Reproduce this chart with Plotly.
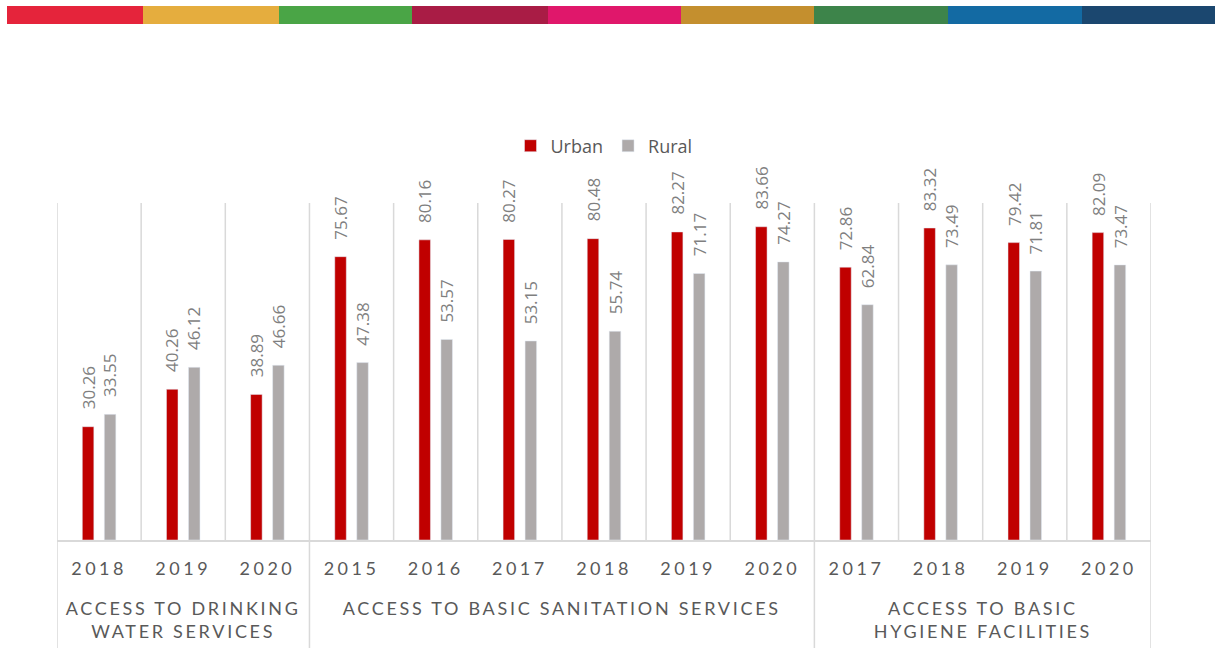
import plotly.graph_objects as go

# ---- data ----
groups = ["ACCESS TO DRINKING<br>WATER SERVICES",
          "ACCESS TO BASIC SANITATION SERVICES",
          "ACCESS TO BASIC<br>HYGIENE FACILITIES"]
group_years = [["2018", "2019", "2020"],
               ["2015", "2016", "2017", "2018", "2019", "2020"],
               ["2017", "2018", "2019", "2020"]]
urban = [30.26, 40.26, 38.89,
         75.67, 80.16, 80.27, 80.48, 82.27, 83.66,
         72.86, 83.32, 79.42, 82.09]
rural = [33.55, 46.12, 46.66,
         47.38, 53.57, 53.15, 55.74, 71.17, 74.27,
         62.84, 73.49, 71.81, 73.47]
stripe_colors = ["#E5243B", "#E5AD3E", "#4AA546", "#A91C45", "#E0176B",
                 "#C48F2E", "#3D844A", "#136AA3", "#1B476F"]

# ---- derived ----
years = [y for g in group_years for y in g]
xs = list(range(len(years)))
n = len(years)

W, H = 1215, 648
L, R, T, B = 57, 64, 203, 108
PW, PH = W - L - R, H - T - B

def px2paper_x(px):
    return (px - L) / PW

def px2paper_y(py):
    return (H - B - py) / PH

RED, GREY = "#C00000", "#AEAAAA"
LINE = "#D9D9D9"
TXT = "#595959"
LBL = "#7F7F7F"

off = 0.1307
bw = 0.137

fig = go.Figure()
fig.add_trace(go.Bar(x=xs, y=urban, name="Urban", marker_color=RED,
                     width=bw, offset=-off - bw / 2, hoverinfo="y"))
fig.add_trace(go.Bar(x=xs, y=rural, name="Rural", marker_color=GREY,
                     width=bw, offset=off - bw / 2, hoverinfo="y"))

annotations = []
for i, (u, r) in enumerate(zip(urban, rural)):
    for xv, v in ((i - off, u), (i + off, r)):
        annotations.append(dict(x=xv, y=v, xref="x", yref="y", text=f"{v:.2f}",
                                textangle=-90, showarrow=False, yanchor="bottom",
                                xanchor="center", yshift=15,
                                font=dict(family="Open Sans", size=17, color=LBL)))

# group labels
bounds = [-0.5]
for g in group_years:
    bounds.append(bounds[-1] + len(g))
for gi, g in enumerate(groups):
    cx = (bounds[gi] + bounds[gi + 1]) / 2
    annotations.append(dict(x=cx, y=px2paper_y(595), xref="x", yref="paper",
                            text=g, showarrow=False, yanchor="top", xanchor="center",
                            align="center",
                            font=dict(family="Lato", size=18, color=TXT)))

shapes = []
# category separators (vertical gridlines)
for k in range(n + 1):
    shapes.append(dict(type="line", xref="x", yref="y", x0=k - 0.5, x1=k - 0.5,
                       y0=0, y1=90, line=dict(color=LINE, width=1.5), layer="below"))
# group dividers below axis
for b in bounds:
    shapes.append(dict(type="line", xref="x", yref="paper", x0=b, x1=b,
                       y0=0, y1=px2paper_y(H + 2), line=dict(color=LINE, width=1.5)))
# top colored stripe
seg_edges = [7, 143, 279, 412, 548, 681, 814, 948, 1082, 1215]
for ci, c in enumerate(stripe_colors):
    shapes.append(dict(type="rect", xref="paper", yref="paper",
                       x0=px2paper_x(seg_edges[ci]), x1=px2paper_x(seg_edges[ci + 1]),
                       y0=px2paper_y(24), y1=px2paper_y(6),
                       fillcolor=c, line=dict(width=0)))

fig.update_layout(
    width=W, height=H, autosize=False,
    paper_bgcolor="white", plot_bgcolor="white",
    margin=dict(l=L, r=R, t=T, b=B),
    barmode="overlay",
    showlegend=True,
    legend=dict(orientation="h", x=0.5, xanchor="center", y=px2paper_y(146),
                yanchor="middle", font=dict(family="Open Sans", size=18, color=TXT),
                traceorder="normal"),
    annotations=annotations,
    shapes=shapes,
    xaxis=dict(range=[-0.5, n - 0.5], tickmode="array", tickvals=xs, ticktext=years,
               showgrid=False, zeroline=False, showline=True, linecolor=LINE,
               linewidth=1.5, ticks="outside", ticklen=12, tickcolor="rgba(0,0,0,0)",
               tickfont=dict(family="Lato", size=18, color=TXT), fixedrange=True),
    yaxis=dict(range=[0, 90], showgrid=False, zeroline=False, showticklabels=False,
               showline=False, fixedrange=True),
)

post = """
document.body.style.margin='0';
document.body.style.overflow='hidden';
var gd = document.getElementById('{plot_id}');
function applySpacing(){
  document.querySelectorAll('.xtick text').forEach(function(t){ t.style.letterSpacing='3.5px'; });
  document.querySelectorAll('.annotation-text').forEach(function(t){
    if (/[A-Z]{3}/.test(t.textContent)) { t.style.letterSpacing='2.7px'; }
  });
}
applySpacing();
if (gd && gd.on) { gd.on('plotly_afterplot', applySpacing); }
"""

fig.write_html("out.html", post_script=post, config={"displayModeBar": False})
